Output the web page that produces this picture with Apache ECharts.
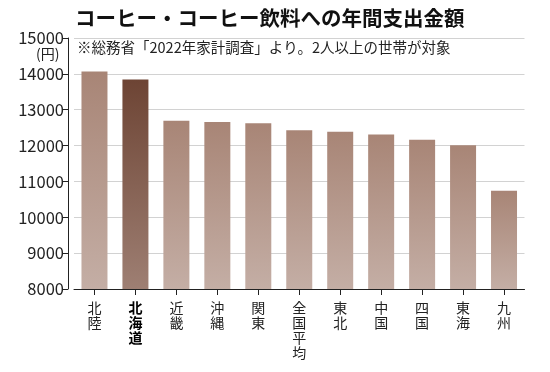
<!DOCTYPE html>
<html><head><meta charset="utf-8">
<script src="https://cdn.jsdelivr.net/npm/echarts@6/dist/echarts.min.js"></script>
<style>html,body{margin:0;padding:0;background:#fff}#c{width:550px;height:372px}</style>
</head><body><div id="c"></div>
<script>
const categories = ['北陸','北海道','近畿','沖縄','関東','全国平均','東北','中国','四国','東海','九州'];
const values = [14065, 13840, 12690, 12655, 12625, 12425, 12385, 12310, 12160, 12010, 10740];
const highlight = '北海道';
const yTicks = [8000, 9000, 10000, 11000, 12000, 13000, 14000, 15000];

const F = '"Noto Sans CJK JP", "Noto Sans", sans-serif';
const normalColor = {type:'linear',x:0,y:0,x2:0,y2:1,colorStops:[{offset:0,color:'#a88576'},{offset:1,color:'#c4aea5'}]};
const hiColor = {type:'linear',x:0,y:0,x2:0,y2:1,colorStops:[{offset:0,color:'#6d4434'},{offset:1,color:'#9e7f73'}]};

const chart = echarts.init(document.getElementById('c'), null, {renderer:'canvas'});
chart.setOption({
  animation:false,
  title:[
    {text:'コーヒー・コーヒー飲料への年間支出金額', left:70, top:3,
     textStyle:{fontFamily:F, fontSize:20.5, fontWeight:'bold', color:'#111'}},
    {text:'※総務省「2022年家計調査」より。2人以上の世帯が対象', left:72, top:35,
     textStyle:{fontFamily:F, fontSize:14.5, fontWeight:'normal', color:'#222'}},
    {text:'(円)', left:31, top:42,
     textStyle:{fontFamily:F, fontSize:14, fontWeight:'normal', color:'#222'}}
  ],
  grid:{left:74, right:25.5, top:38, bottom:83, containLabel:false},
  xAxis:{
    type:'category',
    data:categories.map(c => c === highlight ? {value:c, textStyle:{fontWeight:'bold', color:'#000'}} : c),
    axisLine:{show:true, lineStyle:{color:'#222', width:1}},
    axisTick:{show:true, alignWithLabel:true, length:6, lineStyle:{color:'#222'}},
    axisLabel:{interval:0, margin:11, fontFamily:F, fontSize:14, lineHeight:15, color:'#222',
      formatter: v => v.split('').join('\n')}
  },
  yAxis:{
    type:'value', min:yTicks[0], max:yTicks[yTicks.length-1], interval:1000, offset:6,
    axisLine:{show:true, lineStyle:{color:'#222', width:1}},
    axisTick:{show:true, length:6, lineStyle:{color:'#222'}},
    axisLabel:{fontFamily:F, fontSize:16.5, color:'#222', margin:4, formatter: v => String(v)},
    splitLine:{show:true, lineStyle:{color:'#d2d2d2', width:1}}
  },
  series:[{
    type:'bar', barWidth:26,
    data:values.map((v,i)=>({value:v, itemStyle:{color: categories[i]===highlight ? hiColor : normalColor}}))
  }]
});
</script></body></html>
